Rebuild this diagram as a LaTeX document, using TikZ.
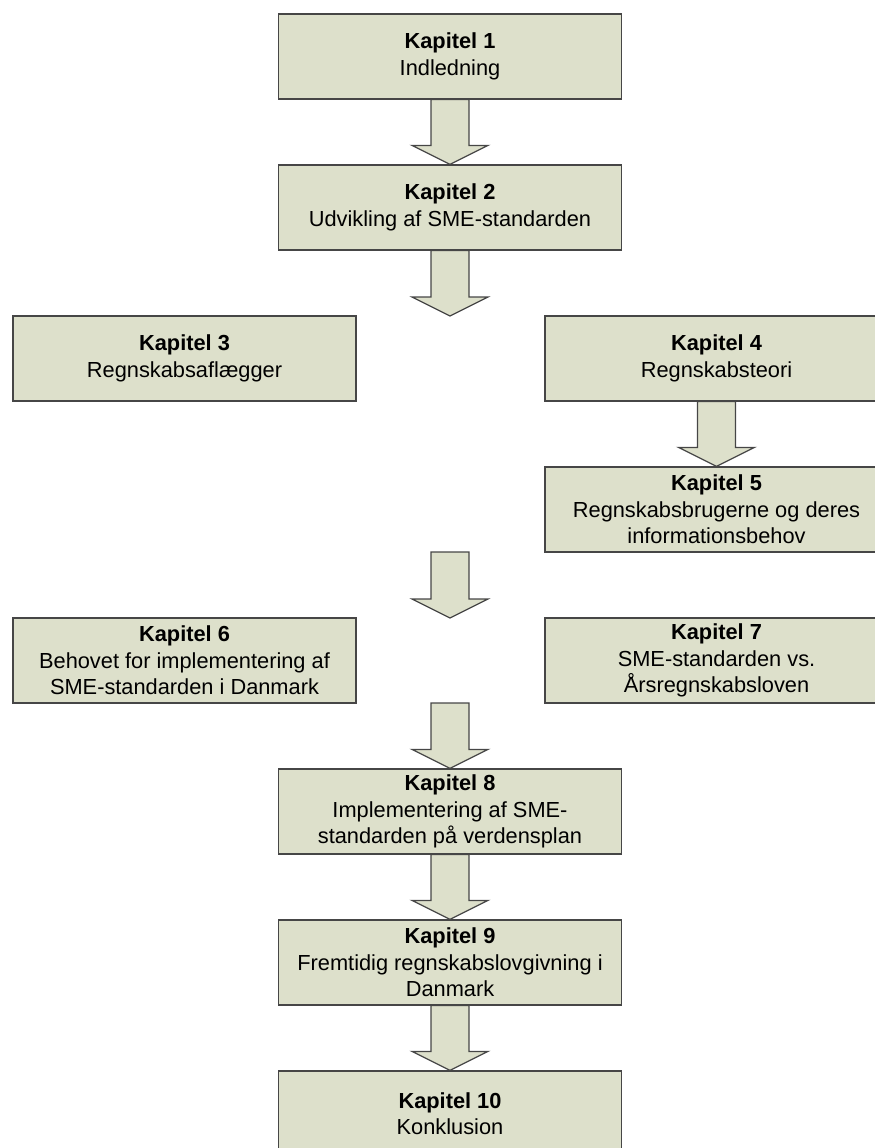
\documentclass[tikz,border=0pt]{standalone}
\usepackage{fontspec}
\setmainfont{Liberation Sans}
\usetikzlibrary{calc}
\definecolor{boxfill}{RGB}{221,224,203}
\definecolor{boxline}{RGB}{70,70,70}
\tikzset{
  chap/.style={draw=boxline, fill=boxfill, line width=1.2pt, minimum width=343pt,
    minimum height=85pt, align=center, inner sep=0pt,
    font=\fontsize{21.8}{26.5}\selectfont},
  blockarrow/.style={draw=boxline, fill=boxfill, line width=1.2pt, line join=miter},
}
\newcommand\blockarr[2]{%
  \draw[blockarrow] ($(#1)+(-19,0)$) -- ($(#2)+(-19,-19)$) -- ($(#2)+(-38,-19)$) -- (#2)
    -- ($(#2)+(38,-19)$) -- ($(#2)+(19,-19)$) -- ($(#1)+(19,0)$) -- cycle;}
\begin{document}
\begin{tikzpicture}[x=1pt,y=-1pt]
\useasboundingbox (0,0) rectangle (875,1148);
\clip (0,0) rectangle (875,1148);
\node[chap] (k1) at (450,56.5) {\textbf{Kapitel 1}\\Indledning};
\node[chap] (k2) at (450,207.5) {\textbf{Kapitel 2}\\Udvikling af SME-standarden};
\node[chap] (k3) at (184.5,358.5) {\textbf{Kapitel 3}\\Regnskabsaflægger};
\node[chap] (k4) at (716.5,358.5) {\textbf{Kapitel 4}\\Regnskabsteori};
\node[chap] (k5) at (716.5,509.5) {\textbf{Kapitel 5}\\Regnskabsbrugerne og deres\\informationsbehov};
\node[chap] (k6) at (184.5,660.5) {\textbf{Kapitel 6}\\Behovet for implementering af\\SME-standarden i Danmark};
\node[chap] (k7) at (716.5,660.5) {\textbf{Kapitel 7}\\SME-standarden vs.\\Årsregnskabsloven};
\node[chap] (k8) at (450,811.5) {\textbf{Kapitel 8}\\Implementering af SME-\\standarden på verdensplan};
\node[chap] (k9) at (450,962.5) {\textbf{Kapitel 9}\\Fremtidig regnskabslovgivning i\\Danmark};
\node[chap] (k10) at (450,1113.5) {\textbf{Kapitel 10}\\Konklusion};
\coordinate (a2end) at (450,316);
\coordinate (a5start) at (450,552);
\coordinate (a5end) at (450,618);
\coordinate (a6start) at (450,703);
\blockarr{k1.south}{k2.north}
\blockarr{k2.south}{a2end}
\blockarr{k4.south}{k5.north}
\blockarr{a5start}{a5end}
\blockarr{a6start}{k8.north}
\blockarr{k8.south}{k9.north}
\blockarr{k9.south}{k10.north}
\end{tikzpicture}
\end{document}
